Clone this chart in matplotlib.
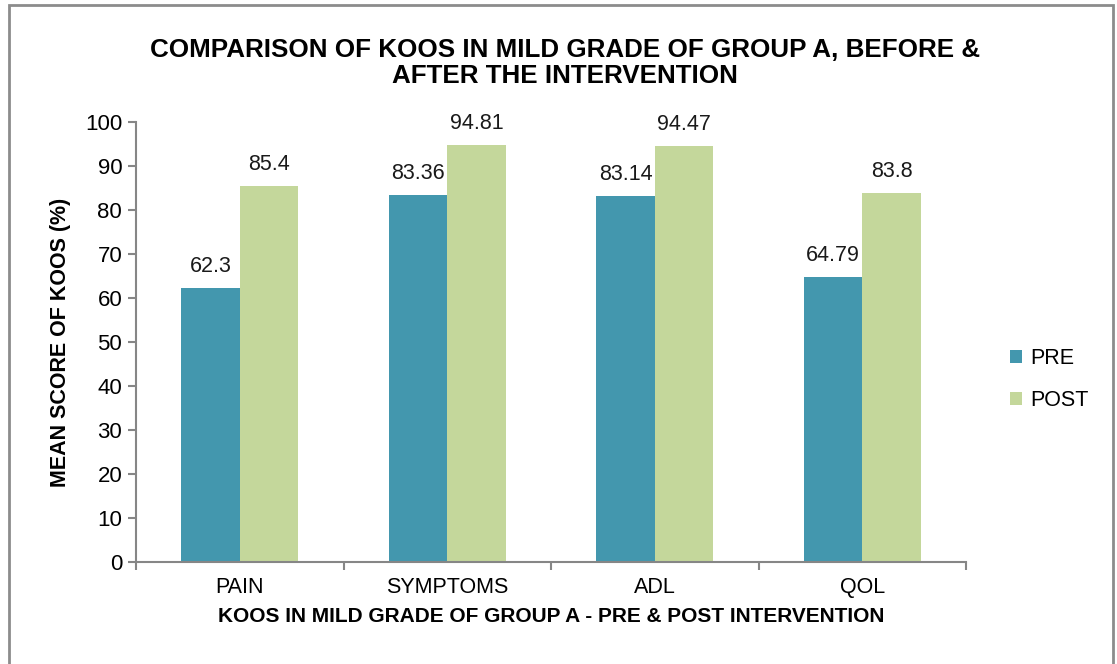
import numpy as np
import matplotlib
matplotlib.use("Agg")
import matplotlib.pyplot as plt
from matplotlib.patches import Rectangle

# chart data
categories = ["PAIN", "SYMPTOMS", "ADL", "QOL"]
pre_values = [62.3, 83.36, 83.14, 64.79]
post_values = [85.4, 94.81, 94.47, 83.8]
pre_labels = ["62.3", "83.36", "83.14", "64.79"]
post_labels = ["85.4", "94.81", "94.47", "83.8"]

plt.rcParams['font.family'] = ['Liberation Sans', 'DejaVu Sans']

PRE_COLOR = "#4397AE"
POST_COLOR = "#C4D79B"
AXIS_GREY = "#868686"

fig = plt.figure(figsize=(11.17, 6.64), dpi=100)
ax = fig.add_axes([0.1218, 0.1536, 0.7432, 0.6627])

x = np.arange(len(categories))
w = 0.282
bars_pre = ax.bar(x - w / 2, pre_values, w, color=PRE_COLOR, label="PRE")
bars_post = ax.bar(x + w / 2, post_values, w, color=POST_COLOR, label="POST")

# value labels above the bars
for bars, labels in ((bars_pre, pre_labels), (bars_post, post_labels)):
    for b, txt in zip(bars, labels):
        ax.annotate(txt, (b.get_x() + b.get_width() / 2, b.get_height()),
                    xytext=(0, 8), textcoords="offset points",
                    ha="center", va="bottom", fontsize=15.5, color="#1a1a1a")

ax.set_xlim(-0.5, len(categories) - 0.5)
ax.set_ylim(0, 100)
ax.set_yticks(np.arange(0, 101, 10))
ax.tick_params(axis="y", labelsize=16, length=6, width=1.5, color=AXIS_GREY,
               direction="out", pad=4)

ax.set_xticks(x)
ax.set_xticklabels(categories)
ax.tick_params(axis="x", which="major", length=0, labelsize=15.5, pad=11)
ax.set_xticks(np.arange(-0.5, len(categories)), minor=True)
ax.tick_params(axis="x", which="minor", length=6, width=1.5, color=AXIS_GREY,
               direction="out")

for side in ("top", "right"):
    ax.spines[side].set_visible(False)
for side in ("left", "bottom"):
    ax.spines[side].set_color(AXIS_GREY)
    ax.spines[side].set_linewidth(1.5)

ax.set_xlabel("KOOS IN MILD GRADE OF GROUP A - PRE & POST INTERVENTION",
              fontsize=15, fontweight="bold", labelpad=6)
ax.set_ylabel("MEAN SCORE OF KOOS (%)", fontsize=15.5, fontweight="bold",
              labelpad=10)

fig.text(0.506, 0.905, "COMPARISON OF KOOS IN MILD GRADE OF GROUP A, BEFORE &\nAFTER THE INTERVENTION",
         ha="center", va="center", fontsize=18.7, fontweight="bold",
         linespacing=1.1)

leg = ax.legend(loc="center left", bbox_to_anchor=(1.03, 0.415), frameon=False,
                fontsize=15.5, handlelength=0.55, handleheight=0.55,
                handletextpad=0.35, labelspacing=1.0)

# grey frame around the chart area
fig.patches.append(Rectangle((0.008, -0.05), 0.988, 1.042,
                             transform=fig.transFigure, fill=False,
                             edgecolor="#8c8c8c", linewidth=2))

fig.savefig("out.png", dpi=100, facecolor="white")
